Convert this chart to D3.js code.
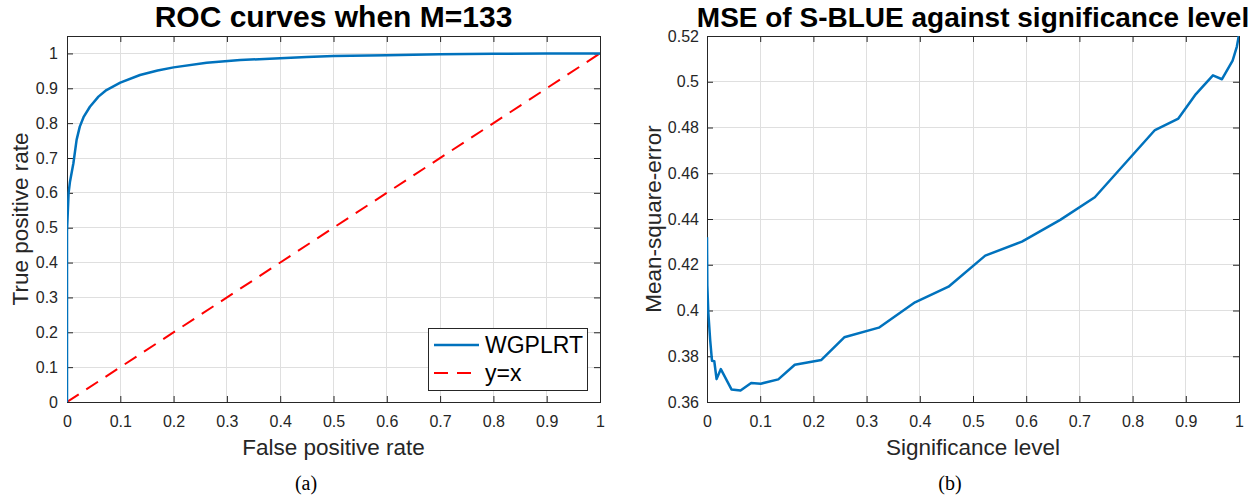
<!DOCTYPE html>
<html>
<head>
<meta charset="utf-8">
<script src="https://cdn.jsdelivr.net/npm/d3@7/dist/d3.min.js"></script>
<style>
  html, body { margin: 0; padding: 0; background: #fff; }
  svg { display: block; }
  text { font-family: "Liberation Sans", Arial, Helvetica, sans-serif; }
</style>
</head>
<body>
<svg id="chart" width="1255" height="498"></svg>
<script>
// ---- Data ----
const rocFpr = [0, 0, 0.003, 0.0056, 0.012, 0.018, 0.024, 0.031, 0.043, 0.059, 0.074, 0.1, 0.137, 0.17, 0.2, 0.262, 0.325, 0.4, 0.45, 0.5, 0.6, 0.7, 0.8, 0.9, 1];
const rocTpr = [0, 0.49, 0.6, 0.632, 0.685, 0.752, 0.79, 0.817, 0.847, 0.876, 0.895, 0.916, 0.938, 0.951, 0.96, 0.973, 0.981, 0.986, 0.99, 0.9925, 0.995, 0.9975, 0.999, 1, 1];
const diagX = [0, 1];
const diagY = [0, 1];

const sigLevel = [0, 0.0006, 0.0025, 0.006, 0.0094, 0.0137, 0.018, 0.026, 0.046, 0.063, 0.083, 0.101, 0.134, 0.165, 0.215, 0.258, 0.323, 0.391, 0.454, 0.523, 0.592, 0.664, 0.729, 0.842, 0.886, 0.919, 0.951, 0.968, 0.988, 0.993, 0.996, 1.0];
const mseVals = [0.432, 0.411, 0.399, 0.387, 0.378, 0.3778, 0.370, 0.3744, 0.3655, 0.365, 0.3683, 0.368, 0.3699, 0.3763, 0.3784, 0.3883, 0.3925, 0.4036, 0.4104, 0.424, 0.4301, 0.4396, 0.4495, 0.4789, 0.4839, 0.4946, 0.5028, 0.5011, 0.5092, 0.5131, 0.5154, 0.5205];

const xTicks = [0, 0.1, 0.2, 0.3, 0.4, 0.5, 0.6, 0.7, 0.8, 0.9, 1];
const xTickLabels = ["0", "0.1", "0.2", "0.3", "0.4", "0.5", "0.6", "0.7", "0.8", "0.9", "1"];
const rocYTicks = [0, 0.1, 0.2, 0.3, 0.4, 0.5, 0.6, 0.7, 0.8, 0.9, 1];
const rocYTickLabels = ["0", "0.1", "0.2", "0.3", "0.4", "0.5", "0.6", "0.7", "0.8", "0.9", "1"];
const mseYTicks = [0.36, 0.38, 0.4, 0.42, 0.44, 0.46, 0.48, 0.5, 0.52];
const mseYTickLabels = ["0.36", "0.38", "0.4", "0.42", "0.44", "0.46", "0.48", "0.5", "0.52"];

const legendLabels = ["WGPLRT", "y=x"];
const titles = ["ROC curves when M=133", "MSE of S-BLUE against significance level"];
const xLabels = ["False positive rate", "Significance level"];
const yLabels = ["True positive rate", "Mean-square-error"];
const captions = ["(a)", "(b)"];

// ---- Styles ----
const BLUE = "#0072BD", RED = "#FF0000", AX = "#262626", GRID = "#dfdfdf";

const svg = d3.select("#chart");
svg.append("rect").attr("width", 1255).attr("height", 498).attr("fill", "#fff");

function drawPanel(cfg) {
  const { x, y, xt, xtl, yt, ytl, title, titleSize, xlabel, ylabel, caption, capX, ylabX, yPad, id } = cfg;
  const [x0, x1] = x.range();
  const [yb, yt0] = y.range();
  const g = svg.append("g");

  // grid
  g.append("g").selectAll("line").data(xt).join("line")
    .attr("x1", d => x(d)).attr("x2", d => x(d)).attr("y1", yb).attr("y2", yt0)
    .attr("stroke", GRID).attr("stroke-width", 1).attr("shape-rendering", "crispEdges");
  g.append("g").selectAll("line").data(yt).join("line")
    .attr("x1", x0).attr("x2", x1).attr("y1", d => y(d)).attr("y2", d => y(d))
    .attr("stroke", GRID).attr("stroke-width", 1).attr("shape-rendering", "crispEdges");

  // axes with inward ticks (bottom/left labelled, top/right mirrored)
  const fs = "16px";
  const bottom = g.append("g").attr("transform", `translate(0,${yb})`)
    .call(d3.axisBottom(x).tickValues(xt).tickFormat((d, i) => xtl[i]).tickSizeInner(-6).tickSizeOuter(0).tickPadding(14));
  const top = g.append("g").attr("transform", `translate(0,${yt0})`)
    .call(d3.axisTop(x).tickValues(xt).tickFormat("").tickSizeInner(-6).tickSizeOuter(0));
  const left = g.append("g").attr("transform", `translate(${x0},0)`)
    .call(d3.axisLeft(y).tickValues(yt).tickFormat((d, i) => ytl[i]).tickSizeInner(-6).tickSizeOuter(0).tickPadding(yPad));
  const right = g.append("g").attr("transform", `translate(${x1},0)`)
    .call(d3.axisRight(y).tickValues(yt).tickFormat("").tickSizeInner(-6).tickSizeOuter(0));
  [bottom, top, left, right].forEach(a => {
    a.select(".domain").remove();
    a.selectAll("line").attr("stroke", AX);
    a.selectAll("text").attr("fill", AX).style("font-size", fs)
      .style("font-family", "'Liberation Sans', Arial, sans-serif");
  });

  // clip
  svg.append("clipPath").attr("id", id).append("rect")
    .attr("x", x0).attr("y", yt0).attr("width", x1 - x0).attr("height", yb - yt0);

  // box
  g.append("rect").attr("x", x0).attr("y", yt0).attr("width", x1 - x0).attr("height", yb - yt0)
    .attr("fill", "none").attr("stroke", AX).attr("stroke-width", 1).attr("shape-rendering", "crispEdges");

  // title
  svg.append("text").attr("x", (x0 + x1) / 2).attr("y", 27).attr("text-anchor", "middle")
    .style("font-size", titleSize).style("font-weight", "bold").attr("fill", "#000").text(title);
  // x label
  svg.append("text").attr("x", (x0 + x1) / 2).attr("y", 455).attr("text-anchor", "middle")
    .style("font-size", "22.5px").attr("fill", AX).text(xlabel);
  // y label
  svg.append("text").attr("transform", `translate(${ylabX},${(yb + yt0) / 2}) rotate(-90)`)
    .attr("text-anchor", "middle").style("font-size", "22.5px").attr("fill", AX).text(ylabel);
  // caption
  svg.append("text").attr("x", capX).attr("y", 490).attr("text-anchor", "middle")
    .style("font-family", "'Liberation Serif', 'DejaVu Serif', serif").style("font-size", "20px")
    .attr("fill", "#000").text(caption);
  return g;
}

// ---- Panel (a) ----
const xa = d3.scaleLinear().domain([0, 1]).range([67, 600]);
const ya = d3.scaleLinear().domain([0, 1.05]).range([402, 36]);
const ga = drawPanel({ x: xa, y: ya, xt: xTicks, xtl: xTickLabels, yt: rocYTicks, ytl: rocYTickLabels,
  title: titles[0], titleSize: "30px", xlabel: xLabels[0], ylabel: yLabels[0], caption: captions[0],
  capX: 306, ylabX: 28, yPad: 9, id: "clipA" });

const lineA = d3.line().x(d => xa(d[0])).y(d => ya(d[1]));
ga.append("path").datum(diagX.map((v, i) => [v, diagY[i]]))
  .attr("d", lineA).attr("fill", "none").attr("stroke", RED).attr("stroke-width", 2)
  .attr("stroke-dasharray", "14,9").attr("clip-path", "url(#clipA)");
ga.append("path").datum(rocFpr.map((v, i) => [v, rocTpr[i]]))
  .attr("d", lineA).attr("fill", "none").attr("stroke", BLUE).attr("stroke-width", 2.5)
  .attr("stroke-linejoin", "round").attr("clip-path", "url(#clipA)");

// legend
const lg = ga.append("g");
lg.append("rect").attr("x", 428).attr("y", 328).attr("width", 159).attr("height", 62)
  .attr("fill", "#fff").attr("stroke", AX).attr("stroke-width", 1).attr("shape-rendering", "crispEdges");
const legColors = [BLUE, RED];
const legDash = [null, "14,9"];
legendLabels.forEach((lab, i) => {
  const cy = 345 + i * 28;
  lg.append("line").attr("x1", 434).attr("x2", 479).attr("y1", cy).attr("y2", cy)
    .attr("stroke", legColors[i]).attr("stroke-width", i === 0 ? 2.5 : 2)
    .attr("stroke-dasharray", legDash[i]);
  lg.append("text").attr("x", 485).attr("y", cy + 8).style("font-size", "23px").attr("fill", "#000").text(lab);
});

// ---- Panel (b) ----
const xb = d3.scaleLinear().domain([0, 1]).range([707, 1239]);
const yb = d3.scaleLinear().domain([0.36, 0.52]).range([402, 36]);
const gb = drawPanel({ x: xb, y: yb, xt: xTicks, xtl: xTickLabels, yt: mseYTicks, ytl: mseYTickLabels,
  title: titles[1], titleSize: "28px", xlabel: xLabels[1], ylabel: yLabels[1], caption: captions[1],
  capX: 950, ylabX: 661, yPad: 8, id: "clipB" });
const lineB = d3.line().x(d => xb(d[0])).y(d => yb(d[1]));
gb.append("path").datum(sigLevel.map((v, i) => [v, mseVals[i]]))
  .attr("d", lineB).attr("fill", "none").attr("stroke", BLUE).attr("stroke-width", 2.5)
  .attr("stroke-linejoin", "round").attr("clip-path", "url(#clipB)");
</script>
</body>
</html>
